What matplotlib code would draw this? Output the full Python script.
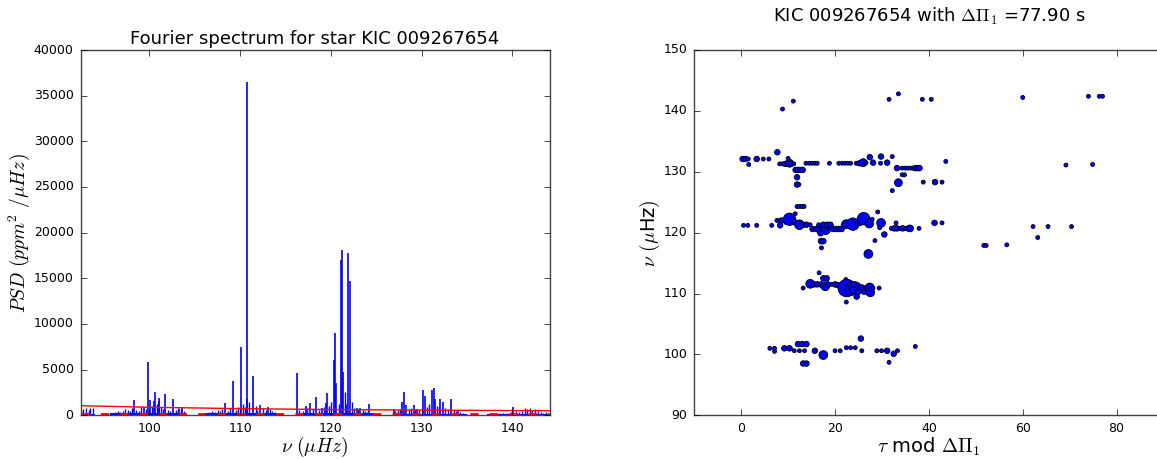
import matplotlib
matplotlib.use("Agg")
import matplotlib.pyplot as plt
import numpy as np

plt.style.use("classic")
plt.rcParams["font.family"] = ["DejaVu Sans"]
plt.rcParams["mathtext.fontset"] = "cm"

# ---------------- left panel data: Fourier spectrum ----------------
xlim_left = (92.4, 144.1)
ylim_left = (0, 40000)

# prominent peaks (frequency in muHz, PSD)
peak_freq = [98.3, 99.4, 99.85, 100.1, 100.5, 100.6, 101.0, 101.1, 101.7, 102.6,
             103.3, 103.6, 108.3, 109.2, 110.05, 110.7, 110.78, 111.4, 112.2, 113.1,
             116.3, 117.2, 117.7, 118.4, 119.0, 119.5, 119.6, 120.35, 120.42, 120.6,
             121.1, 121.25, 121.32, 121.9, 122.1, 122.9, 123.2, 124.2, 126.9, 127.8,
             128.1, 128.3, 129.1, 129.5, 130.1, 130.4, 131.1, 131.3, 131.5, 132.0,
             132.3, 133.2, 134.0, 140.1]
peak_psd = [1700, 900, 5800, 1700, 1600, 2500, 1900, 1600, 2300, 1800,
            700, 800, 1350, 3750, 7500, 1750, 36500, 4350, 1100, 900,
            4600, 1000, 1300, 2050, 800, 1400, 2400, 6100, 9000, 3500,
            17000, 18100, 4700, 17800, 14700, 850, 850, 1200, 650, 1450,
            2600, 1150, 1100, 700, 2800, 2100, 2800, 3000, 1800, 1750,
            1500, 1750, 600, 900]

# low-level spikes in the mode regions
noise_freq = [92.5, 92.7, 93.0, 93.3, 93.5, 93.8,
              95.8, 96.2, 96.5, 96.8, 97.1, 97.3, 97.6, 97.9, 98.1, 98.5, 98.8, 99.1,
              99.6, 100.3, 100.8, 101.3, 101.5, 102.0, 102.3, 102.9, 103.1, 103.5, 103.8,
              106.3, 106.6, 106.9, 107.2, 107.5, 107.8, 108.0, 108.6, 108.9, 109.5,
              109.8, 110.3, 110.5, 111.0, 111.7, 111.9, 112.5, 112.8, 113.3, 113.5, 113.8,
              116.5, 116.9, 117.4, 118.0, 118.7, 119.2, 119.8, 120.0, 120.9, 121.5,
              121.7, 122.3, 122.5, 123.0, 123.5, 123.8, 124.0, 124.5,
              127.0, 127.4, 127.6, 128.6, 128.8, 129.3, 129.7, 130.6, 130.8, 131.7,
              131.9, 132.6, 132.9, 133.5, 133.8, 134.2, 134.5,
              137.5, 137.8, 138.2, 138.6, 139.0, 139.4, 139.8, 140.4, 140.7, 141.0,
              141.4, 141.6, 141.9, 142.2, 142.5, 142.8, 143.1, 143.4, 143.7, 144.0]
noise_psd = [500, 700, 750, 600, 800, 750,
             300, 350, 450, 400, 500, 700, 600, 500, 800, 600, 500, 900,
             700, 1000, 1200, 900, 700, 600, 500, 600, 800, 700, 500,
             300, 400, 500, 400, 600, 500, 700, 500, 800, 600,
             900, 1200, 900, 1500, 1000, 600, 800, 600, 700, 500, 400,
             600, 500, 800, 700, 600, 900, 1000, 1500, 1200, 2500,
             1200, 1500, 800, 700, 600, 500, 400, 300,
             500, 600, 700, 600, 800, 700, 600, 900, 1200, 1000,
             900, 800, 700, 600, 500, 400, 300,
             200, 300, 200, 300, 250, 300, 400, 500, 400, 500,
             800, 700, 800, 600, 700, 500, 400, 300, 350, 300]

# frequency bands where the spectrum has a noise floor
band_start = [92.4, 95.7, 106.0, 116.2, 126.8, 137.2]
band_end = [94.0, 104.0, 114.0, 125.0, 135.0, 144.1]
band_level = [180, 200, 200, 200, 180, 150]

# background fit (red solid) and threshold (red dashed)
bg_freq = [92.4, 100.0, 110.0, 120.0, 130.0, 144.1]
bg_psd = [1050, 880, 730, 630, 565, 500]
thr_freq = [92.4, 144.1]
thr_psd = [120, 120]

# ---------------- right panel data: echelle-like diagram ----------------
tau = [8.8, 11.1, 31.5, 33.5, 38.6, 40.5, 60.0, 74.0, 76.3, 77.0,
       0.3, 0.9, 1.5, 1.6, 3.3, 4.7, 5.9, 7.7, 8.2, 8.8, 9.4, 10.0, 10.3, 10.6, 11.2, 10.0,
       11.6, 12.1, 12.6, 13.1, 11.9, 11.9, 12.3,
       13.8, 14.5, 15.1, 15.7, 16.2, 18.8,
       20.8, 21.5, 22.1, 22.7, 23.3, 24.5, 25.2, 26.0, 26.6, 27.4, 28.1, 29.7, 29.8, 31.1, 32.2,
       33.2, 34.3, 34.9, 35.5, 36.1, 36.6, 37.1, 37.6, 38.0,
       33.5, 34.3, 34.8, 32.2, 38.8, 41.3, 42.8, 43.6, 69.2, 74.9,
       0.5, 1.4, 3.3, 6.5, 7.6, 8.2, 8.6, 8.3, 9.6, 10.3, 11.4, 12.4, 13.2, 13.9, 14.7,
       11.5, 11.9, 12.4, 12.9, 13.4,
       15.2, 16.0, 16.7, 17.3, 18.0, 18.6, 19.1, 19.5, 20.2, 20.8, 21.4,
       16.5, 17.5, 18.3, 19.0,
       16.9, 17.0, 17.5, 17.1,
       21.9, 22.4, 23.3, 23.8, 24.8, 25.3, 26.1, 27.3, 27.9, 29.1, 29.8, 29.5, 30.5, 28.5, 27.1,
       32.0, 32.6, 33.2, 33.8, 34.4, 35.0, 35.6, 36.0, 33.0, 37.9, 41.2, 42.8,
       51.7, 52.2, 56.6, 62.2, 63.2, 65.4, 70.4,
       13.2, 14.7, 15.5, 16.2, 16.6, 17.0, 17.5, 18.2, 17.2, 17.9, 18.5, 19.3, 20.0, 20.6,
       21.2, 21.8, 22.3, 22.6, 22.4,
       22.5, 23.4, 24.3, 24.6, 25.0, 25.7, 26.2, 26.7, 27.4, 27.5, 28.1, 29.4, 23.3, 24.0,
       6.1, 7.1, 7.1, 9.2, 10.3, 11.3, 12.4, 13.5, 12.1, 13.0, 13.9, 13.2, 13.9, 15.7, 17.5,
       20.0, 21.1, 22.4, 23.3, 24.3, 25.5, 25.7, 28.9, 29.9, 31.1, 31.5, 32.5, 33.3, 37.1]
nu = [140.3, 141.6, 141.9, 142.8, 141.9, 141.9, 142.2, 142.4, 142.4, 142.4,
      132.1, 132.1, 132.1, 131.2, 132.1, 132.1, 132.1, 133.2, 131.3, 131.3, 131.3, 131.3, 131.4, 131.3, 131.3, 132.2,
      130.3, 130.3, 130.3, 130.3, 129.1, 127.9, 127.9,
      131.4, 131.4, 131.4, 131.4, 131.4, 131.4,
      131.4, 131.4, 131.4, 131.4, 131.4, 131.4, 131.4, 131.5, 131.5, 132.4, 131.5, 131.4, 132.5, 131.5, 132.5,
      130.6, 130.6, 130.6, 130.6, 130.6, 130.6, 130.6, 130.6, 130.6,
      128.2, 129.5, 129.5, 126.9, 128.3, 128.3, 128.3, 131.7, 131.1, 131.2,
      121.2, 121.2, 121.2, 121.2, 122.0, 122.0, 122.0, 121.2, 121.8, 122.2, 121.7, 121.3, 121.3, 121.3, 121.3,
      123.1, 124.3, 124.3, 124.3, 124.3,
      120.6, 120.6, 120.6, 121.0, 120.4, 121.1, 121.0, 120.6, 120.6, 120.6, 120.6,
      121.3, 121.3, 121.3, 121.3,
      119.9, 118.6, 118.6, 117.5,
      121.3, 121.4, 121.3, 121.4, 121.8, 121.6, 122.3, 121.5, 122.2, 123.4, 121.6, 120.8, 119.7, 118.7, 116.5,
      120.7, 120.7, 120.7, 120.7, 120.7, 120.7, 120.7, 120.7, 121.6, 120.7, 121.6, 121.6,
      117.9, 117.9, 118.0, 121.0, 119.2, 121.0, 121.0,
      110.9, 111.6, 111.5, 111.5, 113.4, 111.5, 112.5, 112.5, 111.3, 111.2, 111.5, 111.5, 111.5, 111.4,
      111.2, 111.5, 112.3, 112.0, 108.6,
      110.9, 110.7, 110.9, 109.5, 110.3, 111.0, 110.3, 110.9, 111.0, 110.2, 110.9, 110.9, 111.5, 111.5,
      101.0, 101.0, 100.5, 101.0, 101.0, 100.6, 100.6, 100.6, 101.7, 101.7, 101.7, 98.5, 98.5, 100.6, 99.9,
      100.6, 100.6, 101.1, 101.1, 101.1, 102.6, 100.6, 100.6, 100.6, 100.6, 98.7, 100.1, 100.6, 101.3]
# relative power of each mode (drives the marker area)
power = [1, 1, 1, 1, 1, 1, 1, 1, 1, 1,
         2, 2, 1, 1, 2, 1, 1, 2, 1, 1, 2, 2, 4, 2, 1, 1,
         2, 2, 2, 2, 2, 2, 1,
         1, 1, 1, 1, 1, 1,
         1, 1, 1, 1, 1, 1, 2, 4, 1, 2, 2, 1, 2, 2, 1,
         2, 1, 1, 1, 1, 1, 2, 2, 2,
         4, 1, 1, 1, 1, 2, 1, 1, 1, 1,
         1, 1, 1, 1, 1, 1, 2, 2, 2, 10, 2, 6, 2, 2, 1,
         1, 1, 1, 1, 1,
         2, 2, 4, 2, 5, 2, 2, 2, 2, 2, 2,
         1, 2, 2, 2,
         2, 2, 2, 1,
         2, 5, 2, 10, 2, 2, 10, 5, 1, 1, 5, 1, 2, 1, 5,
         1, 2, 2, 1, 2, 1, 2, 3, 1, 1, 2, 1,
         1, 1, 1, 1, 1, 1, 1,
         1, 5, 2, 2, 1, 2, 2, 2, 1, 5, 2, 1, 2, 2,
         2, 2, 1, 1, 1,
         20, 10, 10, 2, 2, 2, 2, 2, 5, 5, 1, 1, 2, 2,
         1, 1, 1, 2, 2, 1, 1, 1, 2, 2, 2, 2, 2, 2, 5,
         1, 1, 1, 1, 1, 2, 1, 1, 1, 2, 1, 2, 1, 1]

xlim_right = (-10, 90)
ylim_right = (90, 150)

# ---------------- figure ----------------
W, H = 1157, 459
fig = plt.figure(figsize=(W / 100, H / 100), dpi=100, facecolor="white")

ax1 = fig.add_axes([80.5 / W, 1 - 415.3 / H, 469.2 / W, 365.3 / H])
ax2 = fig.add_axes([694.3 / W, 1 - 415.3 / H, 469.2 / W, 365.3 / H])

for ax in (ax1, ax2):
    ax.set_facecolor("white")
    ax.tick_params(labelsize=9, direction="in", length=4, top=True, right=True, pad=5)
    for sp in ax.spines.values():
        sp.set_color("#444444")

# left: spectrum
for s, e, lv in zip(band_start, band_end, band_level):
    ax1.fill_between([s, e], 0, lv, color="b", lw=0)
ax1.vlines(noise_freq, 0, noise_psd, color="b", lw=1.0)
ax1.vlines(peak_freq, 0, peak_psd, color="b", lw=1.2)
ax1.plot(bg_freq, bg_psd, color="r", lw=1.0)
ax1.plot(thr_freq, thr_psd, color="r", lw=2.0, ls="--", dashes=(6, 8))
ax1.set_xlim(*xlim_left)
ax1.set_ylim(*ylim_left)
ax1.set_xticks([100, 110, 120, 130, 140])
ax1.set_yticks(np.arange(0, 40001, 5000))
ax1.set_title("Fourier spectrum for star KIC 009267654", fontsize=13, pad=4)
ax1.set_xlabel(r"$\nu\ (\mu Hz)$", fontsize=14, labelpad=0)
ax1.set_ylabel(r"$PSD\ (ppm^2\ /\mu Hz)$", fontsize=14, labelpad=1)

# right: scatter
ax2.scatter(tau, nu, s=np.array(power) * 8, c="b", edgecolors="k", linewidths=0.6,
            zorder=3)
ax2.set_xlim(*xlim_right)
ax2.set_ylim(*ylim_right)
ax2.set_xticks([0, 20, 40, 60, 80])
ax2.set_yticks(np.arange(90, 151, 10))
ax2.set_title(r"KIC 009267654 with $\Delta\Pi_1$ =77.90 s", fontsize=13, pad=20)
ax2.set_xlabel(r"$\tau$ mod $\Delta\Pi_1$", fontsize=14, labelpad=0)
ax2.set_ylabel(r"$\nu$ $(\mu$Hz$)$", fontsize=14, labelpad=1)

fig.savefig("out.png", dpi=100, facecolor="white")
